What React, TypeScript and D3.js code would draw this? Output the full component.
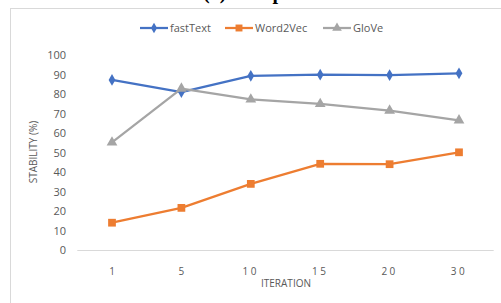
import * as d3 from "d3";

const ITERATIONS = ["1", "5", "10", "15", "20", "30"];
const FASTTEXT = [87.2, 81.0, 89.3, 89.9, 89.7, 90.6];
const WORD2VEC = [14.0, 21.6, 33.9, 44.2, 44.0, 50.1];
const GLOVE = [55.2, 82.8, 77.2, 74.9, 71.5, 66.5];
const Y_TICKS = [0, 10, 20, 30, 40, 50, 60, 70, 80, 90, 100];

const W = 501;
const H = 303;
const FONT = "'Open Sans', 'Liberation Sans', sans-serif";
const TEXT = "#595959";

const series = [
  { name: "fastText", values: FASTTEXT, color: "#4472C4", marker: d3.symbolDiamond, size: 40 },
  { name: "Word2Vec", values: WORD2VEC, color: "#ED7D31", marker: d3.symbolSquare, size: 60 },
  { name: "GloVe", values: GLOVE, color: "#A5A5A5", marker: d3.symbolTriangle, size: 50 },
];

export default function App() {
  const x = d3.scaleBand<string>().domain(ITERATIONS).range([77.3, 493.7]);
  const y = d3.scaleLinear().domain([0, 100]).range([250, 55]);
  const cx = (d: string) => (x(d) ?? 0) + x.bandwidth() / 2;

  const line = d3
    .line<number>()
    .x((_, i) => cx(ITERATIONS[i]))
    .y((v) => y(v));

  const legendX = [140, 225, 323];

  return (
    <svg
      width={W}
      height={H}
      style={{ position: "absolute", left: 0, top: 0, background: "#fff" }}
      fontFamily={FONT}
    >
      {/* caption of the figure, mostly outside the crop */}
      <text
        x={203}
        y={-1}
        fontFamily="'Liberation Serif', serif"
        fontWeight="bold"
        fontSize={20}
        fill="#000"
      >
        (a) Comparison
      </text>
      <rect x={10.5} y={8.5} width={W} height={H} fill="#fff" stroke="#d9d9d9" />

      {/* legend */}
      {series.map((s, i) => {
        const lx = legendX[i];
        const sym = d3.symbol(s.marker, s.size * 0.8)() ?? "";
        return (
          <g key={s.name}>
            <line x1={lx} x2={lx + 28} y1={28} y2={28} stroke={s.color} strokeWidth={2.25} />
            <path d={sym} transform={`translate(${lx + 14},28)`} fill={s.color} />
            <text x={lx + 30} y={32} fontSize={11} fill={TEXT}>
              {s.name}
            </text>
          </g>
        );
      })}

      {/* y ticks */}
      {Y_TICKS.map((t) => (
        <text key={t} x={66} y={y(t) + 4} fontSize={11} fill={TEXT} textAnchor="end">
          {t}
        </text>
      ))}
      <text
        transform={`translate(37,152) rotate(-90)`}
        fontSize={10}
        fill={TEXT}
        textAnchor="middle"
      >
        STABILITY (%)
      </text>

      {/* x axis */}
      <line x1={77.3} x2={493.7} y1={250.5} y2={250.5} stroke="#d9d9d9" />
      {ITERATIONS.map((d) => (
        <text
          key={d}
          x={cx(d)}
          y={275}
          fontSize={10}
          fill={TEXT}
          textAnchor="middle"
          letterSpacing={d.length > 1 ? 2.5 : 0}
        >
          {d}
        </text>
      ))}
      <text x={286} y={287} fontSize={10} fill={TEXT} textAnchor="middle">
        ITERATION
      </text>

      {/* series */}
      {series.map((s) => (
        <g key={s.name}>
          <path d={line(s.values) ?? ""} fill="none" stroke={s.color} strokeWidth={2.25} strokeLinejoin="round" />
          {s.values.map((v, i) => (
            <path
              key={i}
              d={d3.symbol(s.marker, s.size)() ?? ""}
              transform={`translate(${cx(ITERATIONS[i])},${y(v)})`}
              fill={s.color}
            />
          ))}
        </g>
      ))}
    </svg>
  );
}
